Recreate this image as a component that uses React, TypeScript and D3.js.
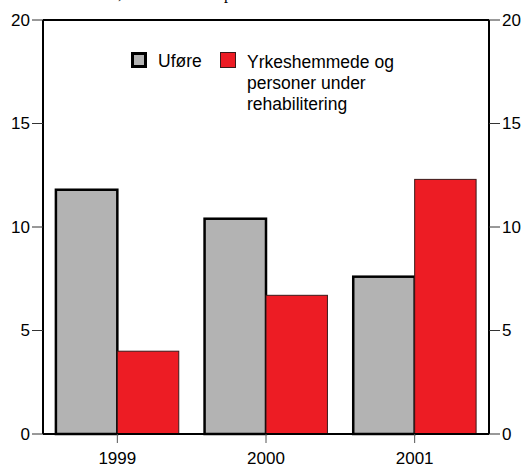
import React from "react";
import * as d3 from "d3";

const categories = ["1999", "2000", "2001"];
const seriesNames = ["Uføre", "Yrkeshemmede og personer under rehabilitering"];
const ufore = [11.8, 10.4, 7.6];
const yrkeshemmede = [4.0, 6.7, 12.3];
const yTicks = [0, 5, 10, 15, 20];
const legendLines = ["Yrkeshemmede og", "personer under", "rehabilitering"];

const W = 527, H = 468;
const M = { left: 43, right: 489, top: 20, bottom: 434 };

export default function App() {
  const x = d3.scaleBand<string>().domain(categories).range([M.left, M.right]).padding(0);
  const bw = x.bandwidth();
  const inner = d3.scaleBand<string>().domain(["a", "b"]).range([0, bw]).paddingOuter(0.21).paddingInner(0);
  const y = d3.scaleLinear().domain([0, 20]).range([M.bottom, M.top]);
  const font = "Liberation Sans, Arial, sans-serif";
  const fs = 17;
  return (
    <svg width={W} height={H} style={{ position: "absolute", left: 0, top: 0, background: "#fff" }}>
      <text x={118} y={-1} fontFamily="Liberation Serif, serif" fontSize={16}>,</text>
      <text x={224} y={-1} fontFamily="Liberation Serif, serif" fontSize={16}>p</text>
      {categories.map((c, i) => (
        <g key={c}>
          <rect x={x(c)! + inner("a")!} y={y(ufore[i])} width={inner.bandwidth()} height={y(0) - y(ufore[i])}
            fill="#b3b3b3" stroke="#000" strokeWidth={2.5} />
          <rect x={x(c)! + inner("b")!} y={y(yrkeshemmede[i])} width={inner.bandwidth()} height={y(0) - y(yrkeshemmede[i])}
            fill="#ed1c24" stroke="#3a1a1a" strokeWidth={1} />
        </g>
      ))}
      <line x1={M.left} x2={M.right} y1={M.top} y2={M.top} stroke="#000" strokeWidth={2} />
      <line x1={M.left} x2={M.left} y1={M.top} y2={M.bottom} stroke="#000" strokeWidth={2} />
      <line x1={M.right} x2={M.right} y1={M.top} y2={M.bottom} stroke="#000" strokeWidth={2} />
      <line x1={M.left} x2={M.right} y1={M.bottom} y2={M.bottom} stroke="#000" strokeWidth={2} />
      {yTicks.map(t => (
        <g key={t}>
          <line x1={M.left - 11} x2={M.left} y1={y(t)} y2={y(t)} stroke="#333" strokeWidth={1} />
          <line x1={M.right} x2={M.right + 11} y1={y(t)} y2={y(t)} stroke="#333" strokeWidth={1} />
          <text x={M.left - 13} y={y(t)} dy="0.35em" textAnchor="end" fontFamily={font} fontSize={fs}>{t}</text>
          <text x={M.right + 13} y={y(t)} dy="0.35em" textAnchor="start" fontFamily={font} fontSize={fs}>{t}</text>
        </g>
      ))}
      {categories.map(c => (
        <g key={"x" + c}>
          <line x1={x(c)! + bw / 2} x2={x(c)! + bw / 2} y1={M.bottom} y2={M.bottom + 9} stroke="#555" strokeWidth={1} />
          <text x={x(c)! + bw / 2} y={464} textAnchor="middle" fontFamily={font} fontSize={fs}>{c}</text>
        </g>
      ))}
      <rect x={132.5} y={53.5} width={13} height={13} fill="#b3b3b3" stroke="#000" strokeWidth={3} />
      <text x={158} y={67} fontFamily={font} fontSize={17.5}>{seriesNames[0]}</text>
      <rect x={220.5} y={52.5} width={15} height={15} fill="#ed1c24" stroke="#3a1a1a" strokeWidth={1} />
      {legendLines.map((l, i) => (
        <text key={l} x={247} y={67.5 + i * 21} fontFamily={font} fontSize={17.5}>{l}</text>
      ))}
    </svg>
  );
}
